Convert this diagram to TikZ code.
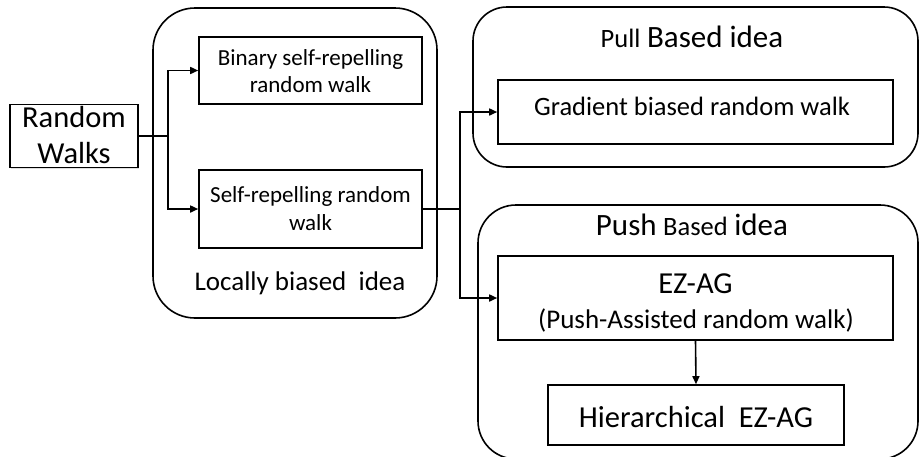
\documentclass[tikz,border=0pt]{standalone}
\usepackage{fontspec}
\setmainfont{Carlito}
\usetikzlibrary{arrows.meta,shadows}
\newcommand\fs[1]{\fontsize{#1}{#1}\selectfont}
\begin{document}
\begin{tikzpicture}[x=1pt,y=-1pt,
  line width=1.6pt,
  shad/.style={drop shadow={shadow xshift=1.2pt,shadow yshift=-1.2pt,fill=black!25,opacity=0.5}},
  box/.style={draw,fill=white,shad,inner sep=0pt},
  group/.style={draw,fill=white,rounded corners=38pt,inner sep=0pt},
  txt/.style={anchor=base,inner sep=0pt},
  arr/.style={-{Triangle[length=8pt,width=7pt]}}]
\useasboundingbox (0,0) rectangle (920,456);
% containers
\node[group,minimum width=284pt,minimum height=310pt,rounded corners=42pt] (local) at (295,163) {};
\node[group,minimum width=445pt,minimum height=160pt,rounded corners=34pt] (pull) at (695.5,87) {};
\node[group,minimum width=440pt,minimum height=254pt] (push) at (698,332) {};
% boxes
\node[box,minimum width=128pt,minimum height=63pt] (rw) at (74,136) {};
\node[box,minimum width=223pt,minimum height=67pt] (binary) at (310.5,70.5) {};
\node[box,minimum width=223pt,minimum height=78pt] (selfrep) at (310.5,209) {};
\node[box,minimum width=395pt,minimum height=64pt] (gradient) at (695.5,112) {};
\node[box,minimum width=395pt,minimum height=84pt] (ezag) at (695.5,298) {};
\node[box,minimum width=296pt,minimum height=60pt] (hier) at (696,415) {};
% texts
\node[txt,font=\fs{30.5}] (rwa) at (74,127) {Random};
\node[txt,font=\fs{30.5}] (rwb) at (74,163) {Walks};
\node[txt,font=\fs{23}] (bina) at (310.5,65) {Binary self-repelling};
\node[txt,font=\fs{23}] (binb) at (310.5,92) {random walk};
\node[txt,font=\fs{23}] (sra) at (310.5,202) {Self-repelling random};
\node[txt,font=\fs{23}] (srb) at (310.5,230) {walk};
\node[txt,font=\fs{27}] (locallbl) at (300,290) {Locally biased\ \ idea};
\node[txt,font=\fs{29}] (pulllbl) at (692,47) {{\fs{26.5}Pull} {\fs{31}Based idea}};
\node[txt,font=\fs{26.5}] (gradtxt) at (692,115) {Gradient biased random walk};
\node[txt,font=\fs{29}] (pushlbl) at (692,235) {{\fs{31}Push} {\fs{26.5}Based} {\fs{31}idea}};
\node[txt,font=\fs{30.5}] (eza) at (695.5,293) {EZ-AG};
\node[txt,font=\fs{27}] (ezb) at (696,328) {(Push-Assisted random walk)};
\node[txt,font=\fs{30.5}] (hiertxt) at (696,427) {Hierarchical\ \ EZ-AG};
% connectors
\coordinate (j1) at (168,136);
\coordinate (j2) at (460,209);
\draw (rw.east) -- (j1);
\draw[arr] (j1) |- (binary.west);
\draw[arr] (j1) |- (selfrep.west);
\draw (selfrep.east) -- (j2);
\draw[arr] (j2) |- (gradient.west);
\draw[arr] (j2) |- (ezag.west);
\draw[arr] (ezag.south) -- (hier.north);
\end{tikzpicture}
\end{document}
